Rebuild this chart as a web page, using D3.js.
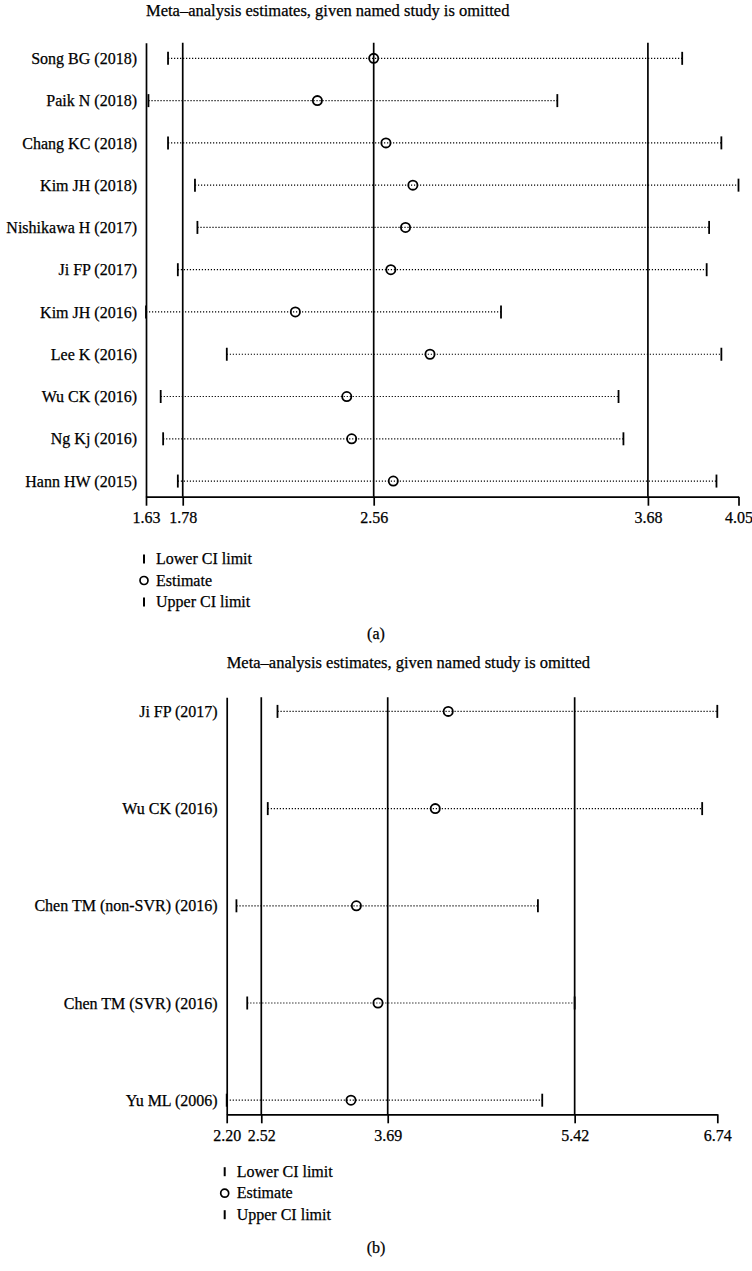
<!DOCTYPE html>
<html>
<head>
<meta charset="utf-8">
<script src="https://cdn.jsdelivr.net/npm/d3@7"></script>
<style>
  html, body { margin: 0; padding: 0; background: #fff; }
  svg text { font-family: 'Liberation Serif', 'Times New Roman', serif; fill: #000; stroke: #000; stroke-width: 0.25px; }
</style>
</head>
<body>
<div id="chart"></div>
<script>
// Panel (a)
const studiesA = ['Song BG (2018)', 'Paik N (2018)', 'Chang KC (2018)', 'Kim JH (2018)', 'Nishikawa H (2017)',
  'Ji FP (2017)', 'Kim JH (2016)', 'Lee K (2016)', 'Wu CK (2016)', 'Ng Kj (2016)', 'Hann HW (2015)'];
const lowerA = [1.72, 1.64, 1.72, 1.83, 1.84, 1.76, 1.63, 1.96, 1.69, 1.70, 1.76];
const estA   = [2.56, 2.33, 2.61, 2.72, 2.69, 2.63, 2.24, 2.79, 2.45, 2.47, 2.64];
const upperA = [3.82, 3.31, 3.98, 4.05, 3.93, 3.92, 3.08, 3.98, 3.56, 3.58, 3.96];
const refA   = [1.78, 2.56, 3.68];
const ticksA = [1.63, 1.78, 2.56, 3.68, 4.05];

// Panel (b)
const studiesB = ['Ji FP (2017)', 'Wu CK (2016)', 'Chen TM (non-SVR) (2016)', 'Chen TM (SVR) (2016)', 'Yu ML (2006)'];
const lowerB = [2.67, 2.58, 2.29, 2.39, 2.20];
const estB   = [4.25, 4.13, 3.40, 3.60, 3.35];
const upperB = [6.74, 6.60, 5.08, 5.42, 5.12];
const refB   = [2.52, 3.69, 5.42];
const ticksB = [2.20, 2.52, 3.69, 5.42, 6.74];

const legendItems = ['Lower CI limit', 'Estimate', 'Upper CI limit'];
const title = 'Meta\u2013analysis estimates, given named study is omitted';

const W = 752, H = 1271;
const svg = d3.select('#chart').append('svg')
  .attr('width', W).attr('height', H);

function drawPanel(p) {
  const g = svg.append('g');
  const x = d3.scaleLinear().domain([p.ticks[0], p.ticks[p.ticks.length - 1]]).range([p.left, p.right]);
  const y = d3.scalePoint().domain(p.studies).range([p.top, p.bottom]).padding(p.pad);
  const rows = p.studies.map((s, i) => ({ s, lo: p.lower[i], est: p.est[i], hi: p.upper[i] }));

  // title
  g.append('text')
    .attr('x', p.left).attr('y', p.titleY)
    .style('font-size', '16.5px')
    .text(title);

  // x axis
  const xAxis = d3.axisBottom(x).tickValues(p.ticks).tickFormat(d3.format('.2f'))
    .tickSize(9).tickSizeOuter(0).tickPadding(6);
  const gx = g.append('g').attr('transform', `translate(0,${p.bottom})`).call(xAxis);
  gx.select('.domain').attr('stroke', '#000').attr('stroke-width', 1.7);
  gx.selectAll('.tick line').attr('stroke', '#000').attr('stroke-width', 1.7);
  gx.selectAll('.tick text').style('font-size', '16px').attr('fill', '#000');

  // y axis (left)
  const yAxis = d3.axisLeft(y).tickSize(0).tickSizeOuter(0).tickPadding(9);
  const gy = g.append('g').attr('transform', `translate(${p.left},0)`).call(yAxis);
  gy.select('.domain').attr('stroke', '#000').attr('stroke-width', 1.7);
  gy.selectAll('.tick text').style('font-size', '16px').attr('fill', '#000');

  // reference lines
  g.selectAll('.ref').data(p.ref).join('line')
    .attr('x1', d => x(d)).attr('x2', d => x(d))
    .attr('y1', p.top).attr('y2', p.bottom)
    .attr('stroke', '#000').attr('stroke-width', 1.7);

  // dotted CI lines
  g.selectAll('.ci').data(rows).join('line')
    .attr('x1', d => x(d.lo)).attr('x2', d => x(d.hi))
    .attr('y1', d => y(d.s)).attr('y2', d => y(d.s))
    .attr('stroke', '#000').attr('stroke-width', 1.2)
    .attr('stroke-dasharray', '1.2,1.8');

  // caps
  ['lo', 'hi'].forEach(k => {
    g.selectAll('.cap-' + k).data(rows).join('line')
      .attr('x1', d => x(d[k])).attr('x2', d => x(d[k]))
      .attr('y1', d => y(d.s) - 6.5).attr('y2', d => y(d.s) + 6.5)
      .attr('stroke', '#000').attr('stroke-width', 1.8);
  });

  // estimates
  g.selectAll('.est').data(rows).join('circle')
    .attr('cx', d => x(d.est)).attr('cy', d => y(d.s))
    .attr('r', 4.6)
    .attr('fill', 'none').attr('stroke', '#000').attr('stroke-width', 1.8);

  // legend
  const lg = g.append('g').attr('transform', `translate(${p.left},${p.legendY})`);
  legendItems.forEach((t, i) => {
    const cy = i * 21.5;
    if (i === 1) {
      lg.append('circle').attr('cx', -2).attr('cy', cy).attr('r', 4)
        .attr('fill', 'none').attr('stroke', '#000').attr('stroke-width', 1.7);
    } else {
      lg.append('line').attr('x1', -2).attr('x2', -2).attr('y1', cy - 4.5).attr('y2', cy + 4.5)
        .attr('stroke', '#000').attr('stroke-width', 2);
    }
    lg.append('text').attr('x', 10).attr('y', cy + 5).style('font-size', '16px').text(t);
  });

  // panel tag
  g.append('text')
    .attr('x', W / 2).attr('y', p.tagY)
    .attr('text-anchor', 'middle')
    .style('font-size', '16px')
    .text(p.tag);
}

drawPanel({
  studies: studiesA, lower: lowerA, est: estA, upper: upperA, ref: refA, ticks: ticksA,
  left: 146, right: 738.5, top: 42.7, bottom: 496.7, pad: 0.37,
  titleY: 16, legendY: 559, tagY: 639, tag: '(a)'
});

drawPanel({
  studies: studiesB, lower: lowerB, est: estB, upper: upperB, ref: refB, ticks: ticksB,
  left: 226.7, right: 717.3, top: 697.3, bottom: 1114.3, pad: 0.145,
  titleY: 668, legendY: 1171.7, tagY: 1253, tag: '(b)'
});
</script>
</body>
</html>
